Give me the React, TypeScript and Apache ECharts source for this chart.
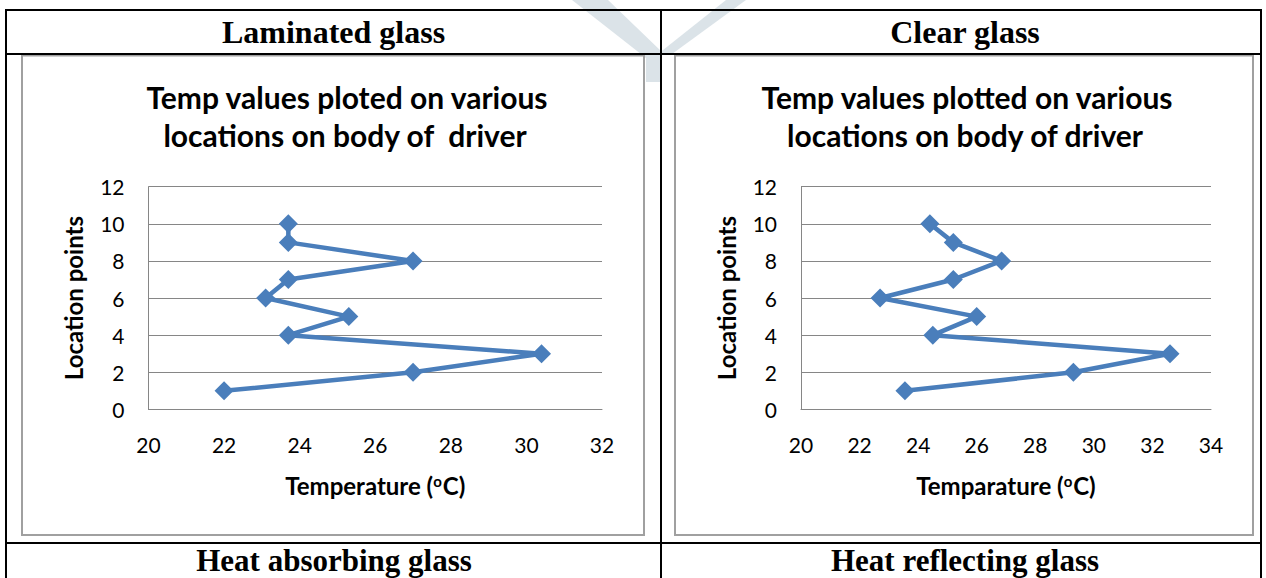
import React, { useEffect, useRef } from 'react';
import * as echarts from 'echarts';

// ---- data ----
const locationPoints = [1, 2, 3, 4, 5, 6, 7, 8, 9, 10];
const laminatedTemps = [22.0, 27.0, 30.4, 23.7, 25.3, 23.1, 23.7, 27.0, 23.7, 23.7];
const clearTemps = [23.55, 29.3, 32.6, 24.5, 26.0, 22.7, 25.2, 26.85, 25.2, 24.4];

const columnHeaders = ['Laminated glass', 'Clear glass'];
const nextRowHeaders = ['Heat absorbing glass', 'Heat reflecting glass'];
const leftTitleLines = ['Temp values ploted on various', 'locations on body of  driver'];
const rightTitleLines = ['Temp values plotted on various', 'locations on body of driver'];
const leftXName = 'Temperature ({s|o}C)';
const rightXName = 'Temparature ({s|o}C)';
const yName = 'Location points';

const locMin = 0, locMax = 12, locStep = 2;
const leftTempMin = 20, leftTempMax = 32;
const rightTempMin = 20, rightTempMax = 34, tempStep = 2;

const SANS = 'Lato, "Open Sans", "DejaVu Sans", sans-serif';
const SERIF = '"Liberation Serif", "Times New Roman", serif';
const GRID_GRAY = '#868686';
const BLUE = '#4A7EBB';

function mkX(gridIndex: number, min: number, max: number, name: string) {
  return {
    type: 'value',
    gridIndex,
    min,
    max,
    interval: tempStep,
    axisLine: { show: true, lineStyle: { color: GRID_GRAY, width: 1 } },
    axisTick: { show: false },
    splitLine: { show: false },
    axisLabel: { fontSize: 21, color: '#000', margin: 25, fontFamily: SANS },
    name,
    nameLocation: 'middle',
    nameGap: 64,
    nameTextStyle: {
      fontSize: 24,
      fontWeight: 'bold',
      color: '#000',
      fontFamily: SANS,
      rich: {
        s: { fontSize: 15, fontWeight: 'bold', color: '#000', fontFamily: SANS, padding: [0, 1, 10, 0] },
      },
    },
  };
}

function mkY(gridIndex: number) {
  return {
    type: 'value',
    gridIndex,
    min: locMin,
    max: locMax,
    interval: locStep,
    axisLine: { show: true, lineStyle: { color: GRID_GRAY, width: 1 } },
    axisTick: { show: false },
    splitLine: { show: true, lineStyle: { color: GRID_GRAY, width: 1 } },
    axisLabel: { fontSize: 21, color: '#000', margin: 24, fontFamily: SANS },
    name: yName,
    nameLocation: 'middle',
    nameRotate: 90,
    nameGap: 63,
    nameTextStyle: { fontSize: 24, fontWeight: 'bold', color: '#000', fontFamily: SANS },
  };
}

function mkSeries(idx: number, temps: number[], name: string) {
  return {
    type: 'line',
    name,
    xAxisIndex: idx,
    yAxisIndex: idx,
    data: locationPoints.map((loc, i) => [temps[i], loc]),
    symbol: 'diamond',
    symbolSize: 19,
    showAllSymbol: true,
    lineStyle: { color: BLUE, width: 4.5 },
    itemStyle: { color: BLUE },
    z: 3,
  };
}

function line(x1: number, y1: number, x2: number, y2: number, stroke = '#000', lineWidth = 2) {
  return { type: 'line', silent: true, shape: { x1, y1, x2, y2 }, style: { stroke, lineWidth } };
}

function text(x: number, y: number, t: string, font: string, size: number) {
  return {
    type: 'text',
    silent: true,
    x,
    y,
    style: {
      text: t,
      align: 'center',
      verticalAlign: 'middle',
      fontFamily: font,
      fontSize: size,
      fontWeight: 'bold',
      fill: '#000',
    },
  };
}

export default function App() {
  const ref = useRef<HTMLDivElement>(null);
  useEffect(() => {
    if (!ref.current) return;
    const chart = echarts.init(ref.current, undefined, { renderer: 'svg' });
    const WM = '#dbe3e8';
    chart.setOption({
      animation: false,
      backgroundColor: '#fff',
      textStyle: { fontFamily: SANS },
      grid: [
        { left: 148.5, top: 186.7, width: 453.5, height: 222.7 },
        { left: 801, top: 186.7, width: 410, height: 222.7 },
      ],
      xAxis: [
        mkX(0, leftTempMin, leftTempMax, leftXName),
        mkX(1, rightTempMin, rightTempMax, rightXName),
      ],
      yAxis: [mkY(0), mkY(1)],
      series: [mkSeries(0, laminatedTemps, 'Laminated glass'), mkSeries(1, clearTemps, 'Clear glass')],
      graphic: [
        // faint watermark
        { type: 'polygon', silent: true, z: -10, shape: { points: [[572, 0], [608, 0], [662, 52], [662, 82], [646, 82], [646, 58]] }, style: { fill: WM } },
        { type: 'polygon', silent: true, z: -10, shape: { points: [[726, 0], [746, 0], [672, 54], [658, 54]] }, style: { fill: WM } },
        // chart area borders
        { type: 'rect', silent: true, shape: { x: 22, y: 55.5, width: 622, height: 479.5 }, style: { fill: 'none', stroke: '#a0a0a0', lineWidth: 2 } },
        { type: 'rect', silent: true, shape: { x: 675, y: 55.5, width: 578, height: 479.5 }, style: { fill: 'none', stroke: '#a0a0a0', lineWidth: 2 } },
        // table lines
        line(5, 10, 1262, 10),
        line(5, 54, 1262, 54),
        line(5, 543, 1262, 543),
        line(6, 10, 6, 578),
        line(661, 10, 661, 578),
        line(1261, 10, 1261, 578),
        // header texts
        text(333.5, 32, columnHeaders[0], SERIF, 32),
        text(965, 32, columnHeaders[1], SERIF, 32),
        text(334, 560, nextRowHeaders[0], SERIF, 31),
        text(965, 560, nextRowHeaders[1], SERIF, 31),
        // chart titles
        text(347, 97, leftTitleLines[0], SANS, 30),
        text(345, 135, leftTitleLines[1], SANS, 30),
        text(967, 97, rightTitleLines[0], SANS, 30),
        text(965, 135, rightTitleLines[1], SANS, 30),
      ],
    });
    return () => chart.dispose();
  }, []);
  return <div ref={ref} style={{ position: 'absolute', left: 0, top: 0, width: 1266, height: 578 }} />;
}
